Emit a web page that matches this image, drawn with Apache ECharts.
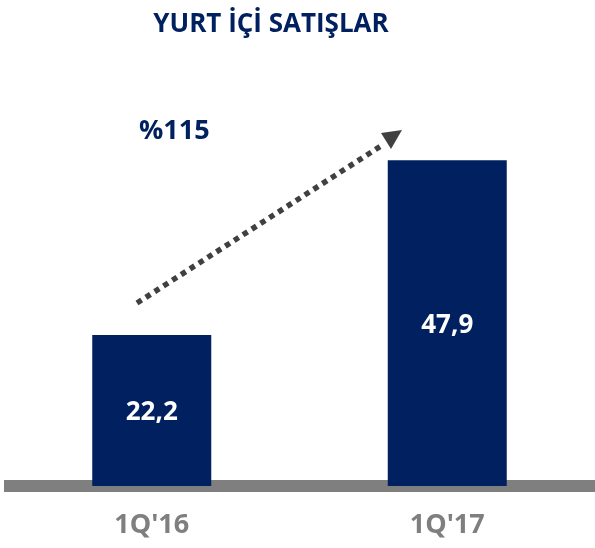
<!DOCTYPE html>
<html>
<head>
<meta charset="utf-8">
<script src="https://cdn.jsdelivr.net/npm/echarts@6/dist/echarts.min.js"></script>
<style>
  html, body { margin: 0; padding: 0; background: #fff; }
  #chart { width: 595px; height: 548px; }
</style>
</head>
<body>
<div id="chart"></div>
<script>
// data
const categories = ['1Q\'16', '1Q\'17']
const sales = [22.2, 47.9]
const growthText = '%115'

const navy = '#002060'
const grey = '#7f7f7f'
const font = 'Open Sans'

const chart = echarts.init(document.getElementById('chart'))
const option = {
  animation: false,
  title: {
    text: 'YURT İÇİ SATIŞLAR',
    left: 266,
    top: 7,
    textAlign: 'center',
    textStyle: { color: navy, fontSize: 26, fontWeight: 'bold', fontFamily: font }
  },
  grid: { left: 4, right: -5, top: 78, bottom: 62 },
  xAxis: {
    type: 'category',
    data: categories,
    axisLine: { lineStyle: { color: grey, width: 12, cap: 'butt' } },
    axisTick: { show: false },
    axisLabel: {
      color: grey, fontSize: 27, fontWeight: 'bold', fontFamily: font, margin: 26
    }
  },
  yAxis: {
    type: 'value',
    min: 0,
    max: 60,
    show: false
  },
  series: [{
    type: 'bar',
    data: sales,
    barWidth: 119,
    itemStyle: { color: navy },
    label: {
      show: true,
      position: 'inside',
      offset: [0, 2],
      color: '#fff',
      fontSize: 26,
      fontWeight: 'bold',
      fontFamily: font,
      formatter: p => String(p.value).replace('.', ',')
    }
  }],
  graphic: [
    {
      type: 'text',
      left: 139,
      top: 118,
      style: { text: growthText, fill: navy, font: 'bold 27px ' + font }
    },
    {
      // dotted growth arrow
      type: 'line',
      shape: { x1: 137, y1: 303, x2: 384, y2: 144 },
      style: { stroke: '#404040', lineWidth: 5.5, lineDash: [5.5, 5] }
    },
    {
      type: 'polygon',
      shape: { points: [[381, 133], [402, 130], [391, 149]] },
      style: { fill: '#404040' }
    }
  ]
}
chart.setOption(option)
</script>
</body>
</html>
